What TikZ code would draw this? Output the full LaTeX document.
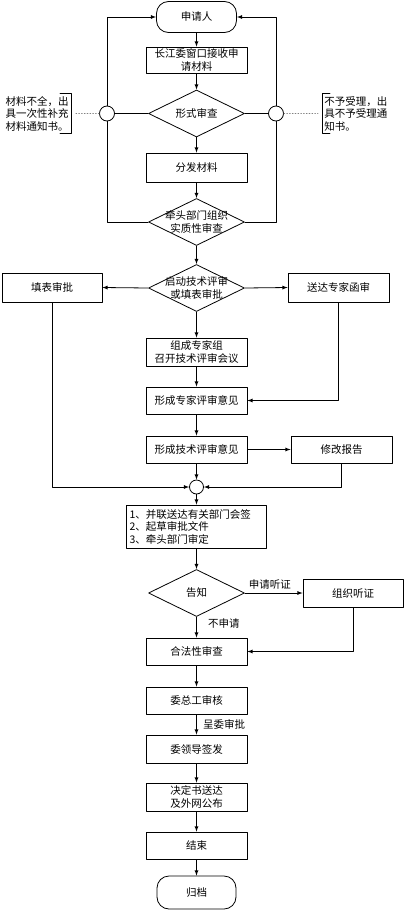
\documentclass[tikz,border=0pt]{standalone}
\usepackage{fontspec}
\setmainfont{Noto Sans CJK SC}
\usepackage{tikz}
\usetikzlibrary{shapes.geometric}
\tikzset{>=latex}

\begin{document}
\begin{tikzpicture}[x=1pt, y=-1pt,
                    line cap=round, line join=round, line width=0.8pt,
                    font=\fontsize{10.5}{12.5}\selectfont,
                    box/.style={draw, rectangle, minimum width=101pt, minimum height=27pt,
                                inner sep=1pt, align=center},
                    term/.style={box, rounded corners=12pt, minimum width=80pt, minimum height=31pt},
                    decision/.style={draw, diamond, minimum width=96pt, minimum height=47pt, inner sep=0pt},
                    junction/.style={draw, circle, minimum size=14pt, inner sep=0pt},
                    note/.style={align=left, inner sep=2pt}]
  \useasboundingbox (0,0) rectangle (404,911);
  \def\cx{196.5}

  % MAIN COLUMN
  \node[term] (app) at (\cx,17) {申请人};
  \node[box, minimum height=26pt] (recv) at (\cx,60) {长江委窗口接收申\\请材料};
  \node[decision, label={center:形式审查}] (form) at (\cx,113.5) {};
  \node[box, minimum height=29pt] (dist) at (\cx,167.5) {分发材料};
  \node[decision, label={[align=center]center:牵头部门组织\\实质性审查}] (sub) at (\cx,222) {};
  \node[decision, label={[align=center]center:启动技术评审\\或填表审批}] (start) at (\cx,288) {};
  \node[box, minimum height=28pt] (meet) at (\cx,352) {组成专家组\\召开技术评审会议};
  \node[box] (exop) at (\cx,400.5) {形成专家评审意见};
  \node[box] (tech) at (\cx,449.5) {形成技术评审意见};
  \node[junction] (join) at (\cx,487) {};
  \node[box, minimum width=140pt, minimum height=43pt, text width=134pt, align=left, inner sep=3pt]
    (sign) at (\cx,526.5) {1、并联送达有关部门会签\\2、起草审批文件\\3、牵头部门审定};
  \node[decision, label={center:告知}] (tell) at (\cx,593) {};
  \node[box] (legal) at (\cx,651.5) {合法性审查};
  \node[box] (chief) at (\cx,700.5) {委总工审核};
  \node[box, minimum height=28pt] (lead) at (\cx,749) {委领导签发};
  \node[box, minimum height=28pt] (deci) at (\cx,797) {决定书送达\\及外网公布};
  \node[box] (done) at (\cx,845.5) {结束};
  \node[term, minimum width=79pt, minimum height=33pt] (arch) at (\cx,892.5) {归档};

  % SIDE BOXES
  \node[box, minimum width=100pt, minimum height=29pt] (fill) at (52,287.5) {填表审批};
  \node[box, minimum height=29pt] (send) at (338.5,287.5) {送达专家函审};
  \node[box] (rev) at (341.5,449.5) {修改报告};
  \node[box, minimum width=100pt, minimum height=28pt] (hear) at (353,593) {组织听证};

  % RETURN LOOPS
  \node[junction, minimum size=15pt] (cL) at (107,113.5) {};
  \node[junction, minimum size=15pt] (cR) at (276,113.5) {};
  \draw (form.west) -- (cL.east);
  \draw (form.east) -- (cR.west);
  \draw (sub.west) -| (cL.south);
  \draw (sub.east) -| (cR.south);
  \draw[->] (cL.north) |- (app.west);
  \draw[->] (cR.north) |- (app.east);

  % notes with brackets
  \node[note, anchor=east] (noteL) at (71,113.5) {材料不全，出\\具一次性补充\\材料通知书。};
  \node[note, anchor=west] (noteR) at (322,113.5) {不予受理，出\\具不予受理通\\知书。};
  \draw ([xshift=-11pt]noteL.north east) -- (noteL.north east) -- (noteL.south east) -- ++(-11pt,0);
  \draw ([xshift=8pt]noteR.north west) -- (noteR.north west) -- (noteR.south west) -- ++(8pt,0);
  \draw[gray, dotted] (cL.west) -- ([xshift=4pt]noteL.east);
  \draw[gray, dotted] (cR.east) -- ([xshift=-4pt]noteR.west);

  % FLOW
  \foreach \a/\b in {app/recv, recv/form, form/dist, dist/sub, sub/start, start/meet,
                     meet/exop, exop/tech, tech/join, join/sign, sign/tell,
                     legal/chief, lead/deci, deci/done, done/arch}{
    \draw[->] (\a) -- (\b);
  }
  \draw[->] (start.west) -- (fill.east);
  \draw[->] (start.east) -- (send.west);
  \draw[->] (send.south) |- (exop.east);
  \draw[->] (tech.east) -- (rev.west);
  \draw[->] (fill.south) |- (join.west);
  \draw[->] (rev.south) |- (join.east);
  \draw[->] (tell.east) -- node[above, xshift=-4pt] {申请听证} (hear.west);
  \draw[->] (tell.south) -- node[right, pos=0.3, xshift=8pt] {不申请} (legal.north);
  \draw[->] (hear.south) |- (legal.east);
  \draw[->] (chief) -- node[right, xshift=3pt] {呈委审批} (lead);

\end{tikzpicture}
\end{document}
